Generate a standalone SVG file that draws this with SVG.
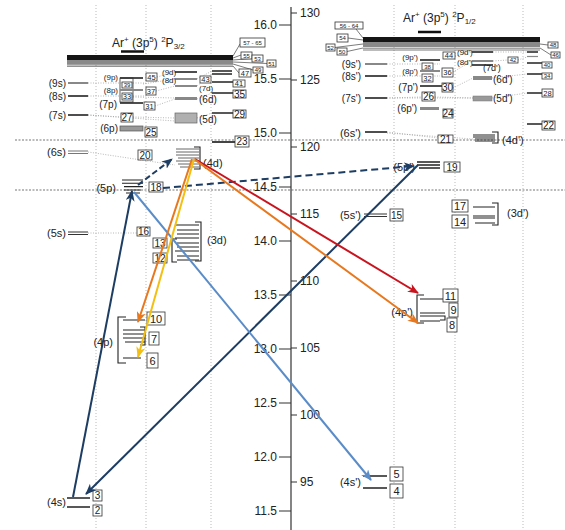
<svg xmlns="http://www.w3.org/2000/svg" width="565" height="530" viewBox="0 0 565 530">
<style>
text{font-family:"Liberation Sans",Arial,sans-serif;fill:#222}
.l{font-size:10px}
.lm{font-size:11px}
.ls{font-size:8px}
.ax{font-size:12px}
.e{text-anchor:end}
.b{fill:#fff;stroke:#333;stroke-width:0.8}
.bt{font-size:10px;text-anchor:middle}
.bs{font-size:7.5px;text-anchor:middle}
.bx{font-size:6px;text-anchor:middle}
.k{stroke:#222;stroke-width:1.6;fill:none}
.kt{stroke:#222;stroke-width:1.1;fill:none}
.g{stroke:#888;stroke-width:2;fill:none}
.d{stroke:#999;stroke-width:0.7;stroke-dasharray:1,1.5;fill:none}
.v{stroke:#aaa;stroke-width:0.8;stroke-dasharray:1,2;fill:none}
.h{stroke:#777;stroke-width:1.2;stroke-dasharray:2,1.5;fill:none}
.a{fill:none;stroke-width:2}
</style>
<defs>
<marker id="mn" markerUnits="userSpaceOnUse" markerWidth="12" markerHeight="9" refX="10" refY="4.5" orient="auto"><path d="M0,0 L11,4.5 L0,9 L3,4.5 z" fill="#1d3d63"/></marker>
<marker id="mb" markerUnits="userSpaceOnUse" markerWidth="12" markerHeight="9" refX="10" refY="4.5" orient="auto"><path d="M0,0 L11,4.5 L0,9 L3,4.5 z" fill="#5a8cc8"/></marker>
<marker id="mr" markerUnits="userSpaceOnUse" markerWidth="12" markerHeight="9" refX="10" refY="4.5" orient="auto"><path d="M0,0 L11,4.5 L0,9 L3,4.5 z" fill="#c8141e"/></marker>
<marker id="mo" markerUnits="userSpaceOnUse" markerWidth="12" markerHeight="9" refX="10" refY="4.5" orient="auto"><path d="M0,0 L11,4.5 L0,9 L3,4.5 z" fill="#e8781e"/></marker>
<marker id="my" markerUnits="userSpaceOnUse" markerWidth="12" markerHeight="9" refX="10" refY="4.5" orient="auto"><path d="M0,0 L11,4.5 L0,9 L3,4.5 z" fill="#f3bf12"/></marker>
</defs>
<rect width="565" height="530" fill="#fff"/>

<!-- grid -->
<g id="grid">
<path class="v" d="M96,5V530M146,5V530M211,5V530M394,5V530M455,5V530M523,5V530"/>
<path class="h" d="M15,140H565M15,190H565"/>
</g>

<!-- axis -->
<g id="axis">
<line x1="291" y1="7" x2="291" y2="530" stroke="#333" stroke-width="1.2"/>
<path stroke="#333" stroke-width="1.2" d="M279,25H291M279,79H291M279,133H291M279,187H291M279,241H291M279,295H291M279,349H291M279,403H291M279,457H291M279,511H291M291,13H297M291,80H297M291,147H297M291,214H297M291,281H297M291,348H297M291,415H297M291,482H297"/>
<text class="ax e" x="277" y="29">16.0</text>
<text class="ax e" x="277" y="83">15.5</text>
<text class="ax e" x="277" y="137">15.0</text>
<text class="ax e" x="277" y="191">14.5</text>
<text class="ax e" x="277" y="245">14.0</text>
<text class="ax e" x="277" y="299">13.5</text>
<text class="ax e" x="277" y="353">13.0</text>
<text class="ax e" x="277" y="407">12.5</text>
<text class="ax e" x="277" y="461">12.0</text>
<text class="ax e" x="277" y="515">11.5</text>
<text class="ax" x="300" y="17">130</text>
<text class="ax" x="300" y="84">125</text>
<text class="ax" x="300" y="151">120</text>
<text class="ax" x="300" y="218">115</text>
<text class="ax" x="300" y="285">110</text>
<text class="ax" x="300" y="352">105</text>
<text class="ax" x="300" y="419">100</text>
<text class="ax" x="300" y="486">95</text>
</g>

<!-- titles and ionization bands -->
<g id="limit32">
<text x="112" y="47" font-size="12">Ar<tspan font-size="8" dy="-5">+</tspan><tspan dy="5"> (3p</tspan><tspan font-size="8" dy="-5">5</tspan><tspan dy="5">) </tspan><tspan font-size="8" dy="-5">2</tspan><tspan dy="5">P</tspan><tspan font-size="8" dy="2">3/2</tspan></text>
<line x1="121" y1="51.5" x2="144" y2="51.5" stroke="#111" stroke-width="2.5"/>
<rect x="67" y="55" width="166" height="5" fill="#151515"/>
<rect x="67" y="60" width="166" height="4" fill="#8a8a8a"/>
<path d="M67,64.8H233M67,66.3H233" stroke="#555" stroke-width="0.8"/>
<path stroke="#444" stroke-width="0.7" fill="none" d="M233,56L240,44M233,58L241,55M233,60L252,58.5M233,62L267,63.5M233,64L253,70M233,66L239,73"/>
<rect class="b" x="240" y="38" width="25" height="9"/><text class="bx" x="252.5" y="44.5">57 - 65</text>
<rect class="b" x="241" y="52" width="11" height="7"/><text class="bx" x="246.5" y="57.5">55</text>
<rect class="b" x="252" y="55" width="11" height="7"/><text class="bx" x="257.5" y="60.5">53</text>
<rect class="b" x="267" y="60" width="9" height="7"/><text class="bx" x="271.5" y="65.5">51</text>
<rect class="b" x="253" y="67" width="10" height="6"/><text class="bx" x="258" y="72">49</text>
<rect class="b" x="239" y="69" width="12" height="8"/><text class="bs" x="245" y="75.5">47</text>
</g>
<g id="limit12">
<text x="403" y="22" font-size="12">Ar<tspan font-size="8" dy="-5">+</tspan><tspan dy="5"> (3p</tspan><tspan font-size="8" dy="-5">5</tspan><tspan dy="5">) </tspan><tspan font-size="8" dy="-5">2</tspan><tspan dy="5">P</tspan><tspan font-size="8" dy="2">1/2</tspan></text>
<line x1="418" y1="32" x2="441" y2="32" stroke="#111" stroke-width="2.5"/>
<rect x="363" y="37" width="177" height="5" fill="#151515"/>
<rect x="363" y="42" width="177" height="5" fill="#8a8a8a"/>
<path d="M363,48.2H540M363,50H540" stroke="#555" stroke-width="0.8"/>
<path stroke="#444" stroke-width="0.7" fill="none" d="M363,38L356,29M363,40L348,38M363,44L335,47.5M363,48L347,51.5M540,44L548,45M540,48L551,55"/>
<rect class="b" x="335" y="22" width="28" height="7"/><text class="bx" x="349" y="27.5">56 - 64</text>
<rect class="b" x="337" y="34" width="11" height="8"/><text class="bx" x="342.5" y="40">54</text>
<rect class="b" x="326" y="44" width="9" height="7"/><text class="bx" x="330.5" y="49.5">52</text>
<rect class="b" x="337" y="48" width="10" height="7"/><text class="bx" x="342" y="53.5">50</text>
<rect class="b" x="548" y="42" width="10" height="6"/><text class="bx" x="553" y="47">48</text>
<rect class="b" x="551" y="52" width="9" height="6"/><text class="bx" x="555.5" y="57">46</text>
</g>

<!-- fine dotted correlations -->
<g id="correlations">
<path class="d" d="M88,83H146M88,96H146M88,115L121,117M88,115L175,121M88,152L175,165M88,233H137M157,77L175,72M143,84L175,79M156,91L175,86M133,97L175,98M155,106L175,99M133,117L175,118M197,79L212,71M197,86L212,74M197,99L212,93M197,118L212,113M387,64H440M387,76H440M387,98L422,97M387,98L473,98M387,132L438,138M387,133L473,139M455,56L472,52M453,72L472,61M453,88L473,78M435,97L473,98M493,52H527M493,61L508,60M518,60L527,57M492,78L527,74M492,98L527,93"/>
</g>

<!-- left: s levels -->
<g id="s-levels">
<line class="g" x1="68" y1="83" x2="88" y2="83" stroke="#999"/>
<text class="l e" x="66" y="86.5">(9s)</text>
<line class="k" x1="68" y1="96" x2="88" y2="96"/>
<text class="l e" x="66" y="99.5">(8s)</text>
<line class="k" x1="68" y1="115" x2="88" y2="115"/>
<text class="l e" x="66" y="118.5">(7s)</text>
<path d="M68,151H88M68,153.5H88" stroke="#777" stroke-width="1.2"/>
<text class="lm e" x="66" y="156">(6s)</text>
<path d="M68,232H88M68,234.5H88" stroke="#333" stroke-width="1.2"/>
<text class="lm e" x="66" y="237">(5s)</text>
<rect class="b" x="137" y="227" width="13" height="9"/><text class="bt" x="143.5" y="235">16</text>
<path d="M67,498H90M67,507H90" stroke="#222" stroke-width="1.3"/>
<text class="lm e" x="66" y="506">(4s)</text>
<rect class="b" x="93" y="490" width="9" height="11"/><text class="bt" x="97.5" y="499">3</text>
<rect class="b" x="93" y="505" width="9" height="11"/><text class="bt" x="97.5" y="514">2</text>
</g>

<!-- left: p levels -->
<g id="p-levels">
<line class="k" x1="120" y1="78" x2="143" y2="78"/>
<text class="ls e" x="118" y="80">(9p)</text>
<rect class="b" x="146" y="73" width="11" height="8"/><text class="bs" x="151.5" y="79.5">45</text>
<rect fill="none" stroke="#333" stroke-width="0.8" x="120" y="78" width="13" height="24"/>
<rect class="b" x="122" y="82" width="10" height="6"/><text class="bx" x="127" y="87">39</text>
<line class="g" x1="120" y1="90" x2="143" y2="90"/>
<text class="ls e" x="118" y="93">(8p)</text>
<rect class="b" x="146" y="87" width="10" height="8"/><text class="bs" x="151" y="93.5">37</text>
<rect class="b" x="122" y="93" width="10" height="7"/><text class="bs" x="127" y="99">33</text>
<line class="k" x1="120" y1="103" x2="143" y2="103"/>
<text class="l e" x="117" y="107.5">(7p)</text>
<rect class="b" x="144" y="102" width="11" height="8"/><text class="bs" x="149.5" y="108.5">31</text>
<rect class="b" x="121" y="113" width="12" height="9"/><text class="bt" x="127" y="121">27</text>
<rect x="120" y="126" width="23" height="5" fill="#999" stroke="#555" stroke-width="0.7"/>
<text class="l e" x="118" y="131.5">(6p)</text>
<rect class="b" x="145" y="127" width="12" height="10"/><text class="bt" x="151" y="135.5">25</text>
<path class="kt" d="M122,180H143M122,183.3H143M124,186.6H143M124,190H141M126,193H140"/>
<text class="lm e" x="116" y="192">(5p)</text>
<rect class="b" x="149" y="182" width="14" height="10"/><text class="bt" x="156" y="190.5">18</text>
<path class="kt" d="M126,317H118V363H126"/>
<path class="kt" d="M123,320H145M123,330H145M123,334H145M123,338H145M125,342H145M140,327H145V345H140M123,358H141"/>
<text class="lm e" x="113" y="346">(4p)</text>
<rect class="b" x="147" y="312" width="18" height="13"/><text class="lm" text-anchor="middle" x="156" y="322.5">10</text>
<rect class="b" x="149" y="332" width="10" height="13"/><text class="lm" text-anchor="middle" x="154" y="342.5">7</text>
<rect class="b" x="147" y="353" width="11" height="15"/><text class="lm" text-anchor="middle" x="152.5" y="364.5">6</text>
</g>

<!-- left: d levels -->
<g id="d-levels">
<line class="k" x1="175" y1="72" x2="197" y2="72"/>
<text class="ls" x="162" y="75">(9d)</text>
<line class="g" x1="175" y1="79" x2="197" y2="79"/>
<text class="ls" x="162" y="83">(8d)</text>
<rect class="b" x="200" y="76" width="11" height="7"/><text class="bs" x="205.5" y="82">43</text>
<line class="g" x1="175" y1="86" x2="197" y2="86"/>
<text class="ls" x="199" y="91">(7d)</text>
<rect x="175" y="97" width="22" height="3" fill="#888"/>
<text class="l" x="199" y="102.5">(6d)</text>
<rect x="175" y="113" width="22" height="10" fill="#b0b0b0" stroke="#666" stroke-width="0.7"/>
<text class="l" x="199" y="122.5">(5d)</text>
<path d="M176,149H199M176,152H199M176,155H199M178,158H199M176,161H199M178,164H199M180,167H199" stroke="#666" stroke-width="1"/>
<path class="kt" d="M194,147H200V169H194" stroke="#666"/>
<text class="lm" x="203" y="167">(4d)</text>
<rect class="b" x="138" y="150" width="14" height="10"/><text class="bt" x="145" y="158.5">20</text>
<path class="kt" d="M175,225H199M177,230H199M177,234H199M175,238H199M177,243H199M177,247H199M175,251H199M177,256H199M177,260H199"/>
<path class="kt" d="M195,222H201V261H195M177,239H172V262H177"/>
<text class="lm" x="207" y="244">(3d)</text>
<rect class="b" x="153" y="238" width="14" height="10"/><text class="bt" x="160" y="246.5">13</text>
<rect class="b" x="153" y="253" width="14" height="10"/><text class="bt" x="160" y="261.5">12</text>
</g>

<!-- left: f column -->
<g id="f-levels">
<path class="k" d="M212,71H232M212,74H232M212,82H233M212,93H233M212,113H233"/>
<line x1="212" y1="142" x2="235" y2="142" stroke="#444" stroke-width="2"/>
<rect class="b" x="233" y="80" width="12" height="7"/><text class="bs" x="239" y="86">41</text>
<rect class="b" x="233" y="90" width="13" height="8"/><text class="bt" x="239.5" y="97.5">35</text>
<rect class="b" x="233" y="110" width="13" height="8"/><text class="bt" x="239.5" y="117.5">29</text>
<rect class="b" x="235" y="136" width="14" height="11"/><text class="bt" x="242" y="145">23</text>
</g>

<!-- right: s' levels -->
<g id="s1-levels">
<line class="g" x1="365" y1="64" x2="387" y2="64"/>
<text class="l e" x="361" y="67.5">(9s')</text>
<line class="k" x1="365" y1="76" x2="387" y2="76"/>
<text class="l e" x="361" y="79.5">(8s')</text>
<line class="k" x1="365" y1="98" x2="387" y2="98"/>
<text class="l e" x="361" y="101.5">(7s')</text>
<line class="k" x1="365" y1="132" x2="387" y2="132"/>
<text class="lm e" x="361" y="136.5">(6s')</text>
<path d="M364,214H387M364,216.5H387" stroke="#333" stroke-width="1.2"/>
<text class="lm e" x="361" y="219">(5s')</text>
<rect class="b" x="390" y="209" width="13" height="12"/><text class="bt" x="396.5" y="218.5">15</text>
<path d="M363,476H387M363,488H387" stroke="#222" stroke-width="1.3"/>
<text class="lm e" x="361" y="486">(4s')</text>
<rect class="b" x="390" y="467" width="13" height="14"/><text class="lm" text-anchor="middle" x="396.5" y="478">5</text>
<rect class="b" x="390" y="484" width="13" height="14"/><text class="lm" text-anchor="middle" x="396.5" y="495">4</text>
</g>

<!-- right: p' levels -->
<g id="p1-levels">
<line class="k" x1="420" y1="60" x2="440" y2="60"/>
<text class="ls e" x="418" y="60">(9p')</text>
<rect class="b" x="443" y="52" width="12" height="7"/><text class="bs" x="449" y="58">44</text>
<rect class="b" x="422" y="63" width="11" height="7"/><text class="bx" x="427.5" y="68.5">38</text>
<line class="g" x1="420" y1="71" x2="440" y2="71"/>
<text class="ls e" x="418" y="74">(8p')</text>
<rect class="b" x="442" y="68" width="11" height="9"/><text class="bs" x="447.5" y="75">36</text>
<rect class="b" x="422" y="74" width="11" height="8"/><text class="bs" x="427.5" y="80.5">32</text>
<line class="k" x1="420" y1="86" x2="450" y2="86"/>
<text class="l e" x="418" y="90.5">(7p')</text>
<rect class="b" x="442" y="83" width="11" height="9"/><text class="bt" x="447.5" y="91">30</text>
<rect class="b" x="422" y="92" width="13" height="9"/><text class="bt" x="428.5" y="100">26</text>
<rect x="420" y="107" width="19" height="3" fill="#888"/>
<text class="l e" x="417" y="111.5">(6p')</text>
<rect class="b" x="443" y="109" width="10" height="9"/><text class="bt" x="448" y="117">24</text>
<path class="k" d="M417,162H440M417,165H440M419,168H440"/>
<text class="lm e" x="415" y="171">(5p')</text>
<rect class="b" x="444" y="162" width="16" height="10"/><text class="bt" x="452" y="171">19</text>
<path class="kt" d="M424,295H417V323H424"/>
<path class="kt" d="M420,299H443M420,313H445M420,316H445V320H440M420,321H440"/>
<text class="lm e" x="413" y="316">(4p')</text>
<rect class="b" x="443" y="289" width="15" height="13"/><text class="lm" text-anchor="middle" x="450.5" y="299.5">11</text>
<rect class="b" x="449" y="303" width="9" height="14"/><text class="lm" text-anchor="middle" x="453.5" y="314">9</text>
<rect class="b" x="447" y="318" width="10" height="14"/><text class="lm" text-anchor="middle" x="452" y="329">8</text>
</g>

<!-- right: d' levels -->
<g id="d1-levels">
<line class="k" x1="472" y1="52" x2="493" y2="52"/>
<text class="ls" x="457" y="55">(9d')</text>
<line class="g" x1="472" y1="61" x2="493" y2="61"/>
<text class="ls" x="457" y="65">(8d')</text>
<line class="k" x1="472" y1="65" x2="493" y2="65"/>
<text x="483" y="71" font-size="9">(7d')</text>
<rect class="b" x="508" y="57" width="10" height="6"/><text class="bx" x="513" y="62">42</text>
<rect x="473" y="76" width="19" height="4" fill="#888"/>
<text class="l" x="493" y="82.5">(6d')</text>
<rect x="473" y="96" width="19" height="5" fill="#999" stroke="#777" stroke-width="0.5"/>
<text class="l" x="493" y="101.5">(5d')</text>
<path class="kt" d="M473,135H495M473,137H495M475,139H495M475,141H495"/>
<path class="kt" d="M492,132H498V143H492"/>
<text class="lm" x="502" y="144">(4d')</text>
<rect class="b" x="438" y="135" width="15" height="8"/><text class="bt" x="445.5" y="142.5">21</text>
<path class="kt" d="M473,207H495M473,216H495M473,218H495M475,223H495"/>
<path class="kt" d="M492,203H498V225H492"/>
<text class="lm" x="507" y="217">(3d')</text>
<rect class="b" x="452" y="200" width="16" height="12"/><text class="lm" text-anchor="middle" x="460" y="210">17</text>
<rect class="b" x="452" y="215" width="16" height="13"/><text class="lm" text-anchor="middle" x="460" y="225.5">14</text>
</g>

<!-- right: f' column -->
<g id="f1-levels">
<path class="k" d="M527,52H538M527,63H542M527,74H542M527,93H542M527,124H542"/>
<line x1="527" y1="56.5" x2="538" y2="56.5" stroke="#888" stroke-width="1.2"/>
<rect class="b" x="542" y="62" width="10" height="6"/><text class="bx" x="547" y="67">40</text>
<rect class="b" x="542" y="73" width="10" height="6"/><text class="bx" x="547" y="78">34</text>
<rect class="b" x="542" y="89" width="11" height="8"/><text class="bs" x="547.5" y="95.5">28</text>
<rect class="b" x="542" y="121" width="13" height="9"/><text class="bt" x="548.5" y="129">22</text>
</g>

<!-- connectors -->
<g id="connectors">
<line class="a" stroke="#1d3d63" x1="73" y1="497" x2="132" y2="191" marker-end="url(#mn)"/>
<line class="a" stroke="#1d3d63" x1="418" y1="165" x2="86" y2="494" marker-end="url(#mn)"/>
<line class="a" stroke="#1d3d63" stroke-dasharray="7,4" x1="163" y1="188" x2="414" y2="166" marker-end="url(#mn)"/>
<line class="a" stroke="#1d3d63" stroke-dasharray="6,3" x1="138" y1="185" x2="172" y2="159" marker-end="url(#mn)"/>
<line class="a" stroke="#5a8cc8" x1="134" y1="192" x2="371" y2="480" marker-end="url(#mb)"/>
<line class="a" stroke="#c8141e" x1="195" y1="159" x2="418" y2="293" marker-end="url(#mr)"/>
<line class="a" stroke="#e8781e" x1="194" y1="159" x2="418" y2="323" marker-end="url(#mo)"/>
<line class="a" stroke="#e8781e" x1="192" y1="159" x2="138" y2="322" marker-end="url(#mo)"/>
<line class="a" stroke="#f3bf12" x1="194" y1="159" x2="138" y2="357" marker-end="url(#my)"/>
</g>
</svg>
